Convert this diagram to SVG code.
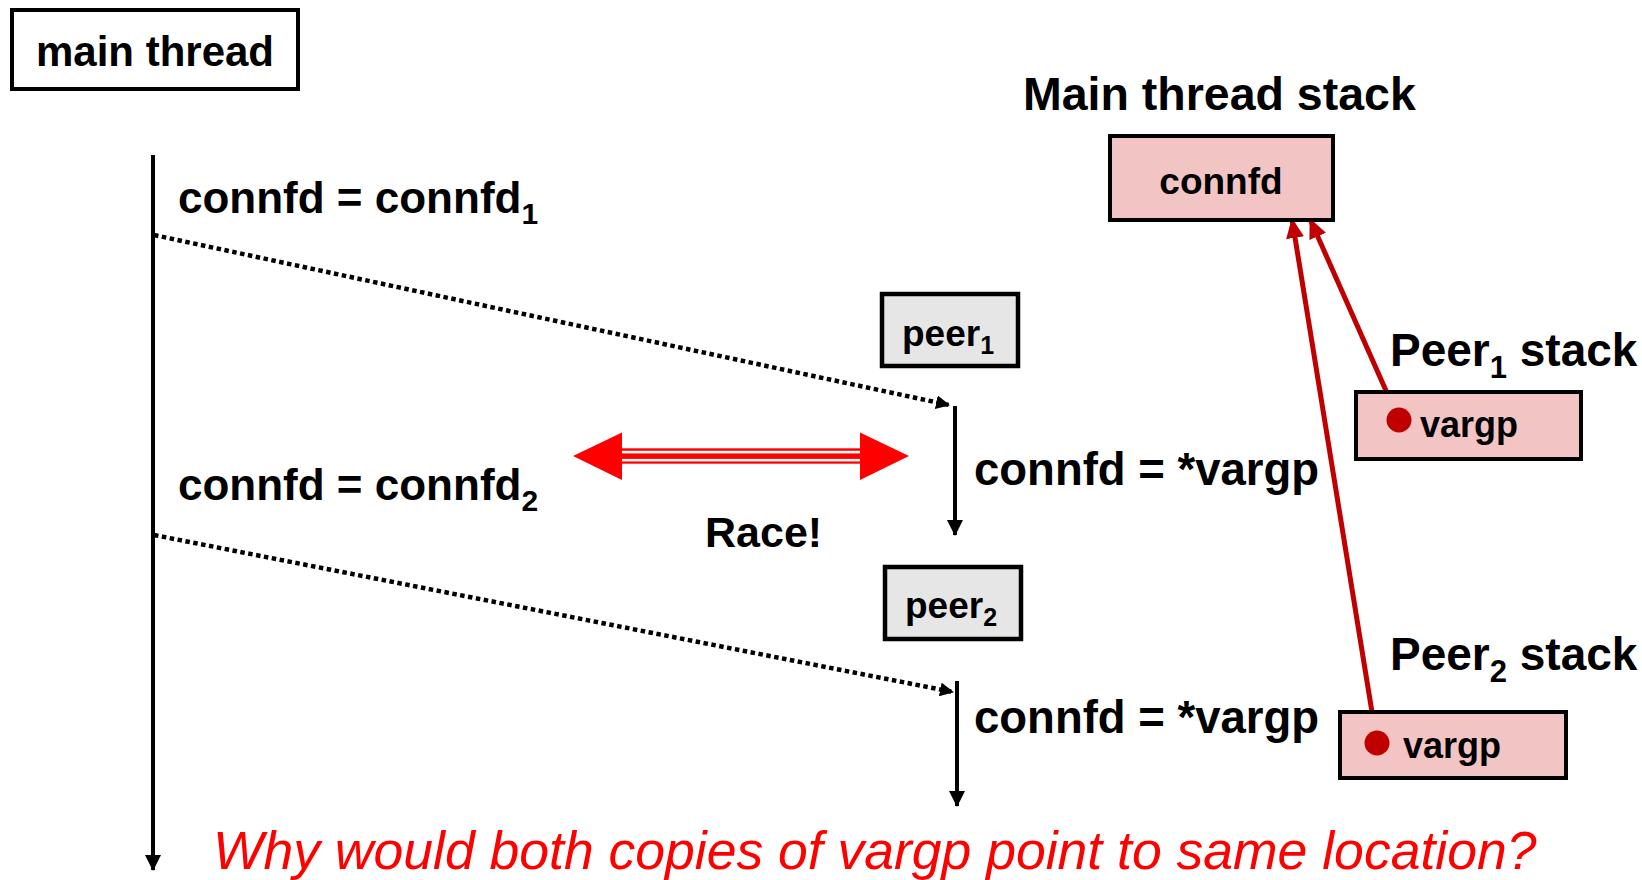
<svg xmlns="http://www.w3.org/2000/svg" width="1642" height="880" viewBox="0 0 1642 880">
  <style>
    .t { font-family: "Liberation Sans", Arial, sans-serif; font-weight: bold; fill: #000; }
    .box { stroke: #000; stroke-width: 4; }
    .peer { fill: #e6e6e6; stroke: #000; stroke-width: 4.5; }
    .stack { fill: #f2c4c4; stroke: #000; stroke-width: 4; }
    .tl { stroke: #000; stroke-width: 4; fill: none; }
    .dot { stroke: #000; stroke-width: 4.5; stroke-dasharray: 4.5 3.5; fill: none; }
    .ptr { stroke: #c00000; stroke-width: 5; fill: none; }
  </style>
  <defs>
    <marker id="ah" markerUnits="userSpaceOnUse" viewBox="0 0 16 16" markerWidth="16" markerHeight="16" refX="15" refY="8" orient="auto">
      <path d="M0,0 L16,8 L0,16 z" fill="#000"/>
    </marker>
    <marker id="ahs" markerUnits="userSpaceOnUse" viewBox="0 0 14 14" markerWidth="14" markerHeight="14" refX="13" refY="7" orient="auto">
      <path d="M0,0 L14,7 L0,14 z" fill="#000"/>
    </marker>
    <marker id="ahr" markerUnits="userSpaceOnUse" viewBox="0 0 20 18" markerWidth="20" markerHeight="18" refX="19" refY="9" orient="auto">
      <path d="M0,0 L20,9 L0,18 z" fill="#c00000"/>
    </marker>
  </defs>
  <rect width="1642" height="880" fill="#fff"/>

  <g id="connectors">
    <line class="tl" x1="153" y1="155" x2="153" y2="870" marker-end="url(#ah)"/>
    <line class="dot" x1="154" y1="235" x2="949" y2="405" marker-end="url(#ahs)"/>
    <line class="tl" x1="955" y1="406" x2="955" y2="535" marker-end="url(#ah)"/>
    <line class="dot" x1="154" y1="535" x2="953" y2="692" marker-end="url(#ahs)"/>
    <line class="tl" x1="957" y1="681" x2="957" y2="806" marker-end="url(#ah)"/>
    <line class="ptr" x1="1399" y1="420" x2="1310" y2="219" marker-end="url(#ahr)"/>
    <line class="ptr" x1="1377" y1="743" x2="1292" y2="219" marker-end="url(#ahr)"/>
    <g id="race-arrow">
      <rect x="618" y="448.3" width="246" height="15.4" fill="#ff0000"/>
      <rect x="620" y="450.8" width="242" height="2.6" fill="#fff"/>
      <rect x="620" y="458.9" width="242" height="2.5" fill="#fff"/>
      <polygon points="573,456 622,432.5 622,480" fill="#ff0000"/>
      <polygon points="909,456 860,432.5 860,480" fill="#ff0000"/>
    </g>
  </g>

  <g id="main-thread">
    <rect class="box" x="12" y="10" width="286" height="79" fill="#fff"/>
    <text class="t" x="155" y="66" font-size="42" text-anchor="middle">main thread</text>
  </g>

  <g id="main-labels">
    <text class="t" x="178" y="213" font-size="44">connfd = connfd<tspan font-size="30" dy="11">1</tspan></text>
    <text class="t" x="178" y="500" font-size="44">connfd = connfd<tspan font-size="30" dy="11">2</tspan></text>
    <text class="t" x="705" y="547" font-size="43">Race!</text>
  </g>

  <g id="peer1">
    <rect class="peer" x="882" y="294" width="136" height="72"/>
    <text class="t" x="902" y="346" font-size="37">peer<tspan font-size="25" dy="8">1</tspan></text>
    <text class="t" x="974" y="485" font-size="45.5">connfd = *vargp</text>
  </g>

  <g id="peer2">
    <rect class="peer" x="885" y="567" width="136" height="72"/>
    <text class="t" x="905" y="618" font-size="37">peer<tspan font-size="25" dy="8">2</tspan></text>
    <text class="t" x="974" y="733" font-size="45.5">connfd = *vargp</text>
  </g>

  <g id="main-stack">
    <text class="t" x="1023" y="110" font-size="46.5">Main thread stack</text>
    <rect class="stack" x="1110" y="136" width="223" height="84"/>
    <text class="t" x="1221" y="194" font-size="37" text-anchor="middle">connfd</text>
  </g>

  <g id="peer1-stack">
    <text class="t" x="1390" y="366" font-size="46">Peer<tspan font-size="31" dy="12">1</tspan><tspan dy="-12"> stack</tspan></text>
    <rect class="stack" x="1356" y="392" width="225" height="67"/>
    <text class="t" x="1420" y="437" font-size="36">vargp</text>
    <circle cx="1399" cy="420" r="12.5" fill="#c00000"/>
  </g>

  <g id="peer2-stack">
    <text class="t" x="1390" y="670" font-size="46">Peer<tspan font-size="31" dy="12">2</tspan><tspan dy="-12"> stack</tspan></text>
    <rect class="stack" x="1340" y="712" width="226" height="66"/>
    <text class="t" x="1403" y="758" font-size="36">vargp</text>
    <circle cx="1377" cy="743" r="12.5" fill="#c00000"/>
  </g>

  <g id="question">
    <text x="213" y="869" font-family="Liberation Sans, Arial, sans-serif" font-style="italic" font-size="53.5" fill="#ff0000">Why would both copies of vargp point to same location?</text>
  </g>
</svg>
